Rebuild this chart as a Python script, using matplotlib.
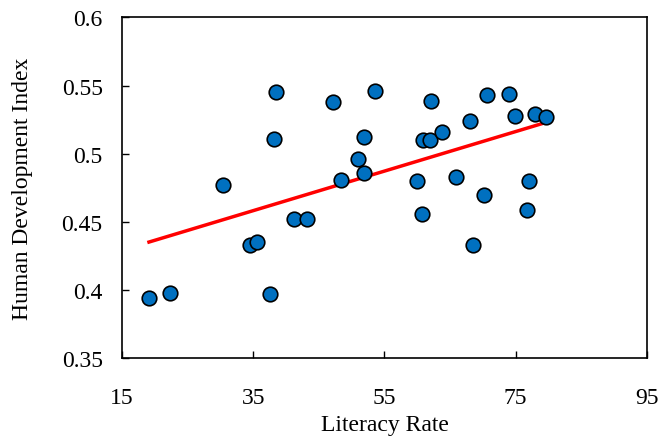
import numpy as np
import matplotlib
matplotlib.use("Agg")
import matplotlib.pyplot as plt

plt.rcParams["font.family"] = ["Liberation Serif", "DejaVu Serif"]

# values
literacy = [19.1, 22.3, 37.5, 30.4, 34.5, 35.5, 38.4, 38.2, 41.2, 43.2,
            47.2, 53.6, 51.9, 50.9, 51.9, 48.3, 62.1, 60.9, 61.9, 63.8,
            59.9, 60.8, 65.9, 68.0, 70.6, 70.2, 68.5, 74.0, 74.9, 78.0,
            79.6, 77.1, 76.7]
hdi = [0.394, 0.398, 0.397, 0.477, 0.433, 0.435, 0.545, 0.511, 0.452, 0.452,
       0.538, 0.546, 0.512, 0.496, 0.486, 0.481, 0.539, 0.510, 0.510, 0.516,
       0.480, 0.456, 0.483, 0.524, 0.543, 0.470, 0.433, 0.544, 0.528, 0.529,
       0.527, 0.480, 0.459]
x_ticks = [15, 35, 55, 75, 95]
y_ticks = [0.35, 0.4, 0.45, 0.5, 0.55, 0.6]
y_tick_labels = ["0.35", "0.4", "0.45", "0.5", "0.55", "0.6"]

x = np.array(literacy)
y = np.array(hdi)
# linear trend line
slope, intercept = np.polyfit(x, y, 1)

fig = plt.figure(figsize=(6.6, 4.39), dpi=100)
ax = fig.add_axes([0.185, 0.1815, 0.795, 0.7765])

ax.scatter(x, y, s=110, color="#0070C0", edgecolor="black", linewidth=1.2, zorder=3)
xs = np.array([x.min(), x.max()])
ax.plot(xs, slope * xs + intercept, color="#FF0000", linewidth=2.5, zorder=2)

ax.set_xlim(15, 95)
ax.set_ylim(0.35, 0.6)
ax.set_xticks(x_ticks)
ax.set_yticks(y_ticks)
ax.set_yticklabels(y_tick_labels)
ax.tick_params(direction="in", length=5, width=1, labelsize=17)
ax.tick_params(axis="y", pad=14)
ax.tick_params(axis="x", pad=21)
for sp in ax.spines.values():
    sp.set_linewidth(1.2)

ax.set_xlabel("Literacy Rate", fontsize=17, va="center")
ax.set_ylabel("Human Development Index", fontsize=17, va="center")
ax.xaxis.set_label_coords(0.5, -0.193)
ax.yaxis.set_label_coords(-0.189, 0.5)

fig.savefig("out.png", dpi=100)
